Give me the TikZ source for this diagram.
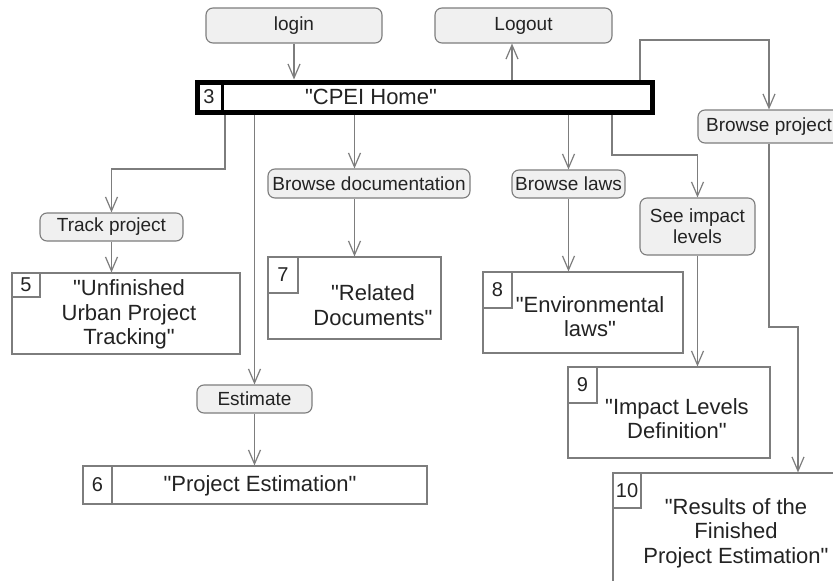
\documentclass[tikz,border=0pt]{standalone}
\usepackage{fontspec}
\setmainfont{Liberation Sans}
\usetikzlibrary{arrows.meta}
\definecolor{edge}{RGB}{125,125,125}
\definecolor{lblfill}{RGB}{240,240,240}
\definecolor{ink}{RGB}{35,35,35}
\newcommand{\qd}{\textquotedbl}
\begin{document}
\begin{tikzpicture}[x=1pt,y=-1pt,
  lbl/.style={draw=edge, fill=lblfill, rounded corners=7pt, line width=1.1pt, inner sep=0pt,
    font=\fontsize{19}{21}\selectfont, text=ink, align=center},
  scr/.style={draw=edge, fill=white, line width=1.1pt, inner sep=0pt},
  numc/.style={draw=edge, fill=white, line width=1.1pt, inner sep=0pt,
    font=\fontsize{20}{22}\selectfont, text=ink, anchor=north west},
  big/.style={font=\fontsize{22}{24.5}\selectfont, text=ink, align=center, inner sep=0pt},
  arr/.style={draw=edge, line width=1.2pt, -{Straight Barb[length=14pt,width=12pt]}}]
\useasboundingbox (0,0) rectangle (833,581);
\clip (0,0) rectangle (833,581);
\fill[white] (0,0) rectangle (833,581);

% top labels
\node[lbl, minimum width=176pt, minimum height=35pt] (login) at (294,25.5) {login};
\node[lbl, minimum width=177pt, minimum height=35pt] (logout) at (523.5,25.5) {Logout};

% home
\node[draw=black, fill=white, line width=5pt, inner sep=0pt, minimum width=455pt, minimum height=30pt] (home) at (424.5,97) {};
\node[draw=black, line width=3pt, inner sep=0pt, minimum width=26pt, minimum height=30pt, anchor=west,
  font=\fontsize{20}{22}\selectfont, text=ink] (n3) at (home.west) {3};
\node[big] (hometxt) at (371,97) {\qd CPEI Home\qd};

% labels
\node[lbl, minimum width=143pt, minimum height=28pt] (track) at (111.5,227) {Track project};
\node[lbl, minimum width=202pt, minimum height=29pt] (doc) at (369,183.5) {Browse documentation};
\node[lbl, minimum width=113pt, minimum height=28pt] (laws) at (568.5,184) {Browse laws};
\node[lbl, minimum width=115pt, minimum height=57pt] (imp) at (697.5,226.5) {See impact\\levels};
\node[lbl, minimum width=142pt, minimum height=33pt] (bp) at (769,126.5) {Browse project};
\node[lbl, minimum width=115pt, minimum height=28pt] (est) at (254.5,399) {Estimate};

% screens
\node[scr, minimum width=228pt, minimum height=81pt] (s5) at (126,313.5) {};
\node[numc, minimum width=28pt, minimum height=24pt] (n5) at (s5.north west) {5};
\node[big] (t5) at (129,314.5) {\qd Unfinished\\Urban Project\\Tracking\qd};

\node[scr, minimum width=344pt, minimum height=38pt] (s6) at (255,485) {};
\node[numc, minimum width=29pt, minimum height=38pt] (n6) at (s6.north west) {6};
\node[big] (t6) at (260,486) {\qd Project Estimation\qd};

\node[scr, minimum width=173pt, minimum height=82pt] (s7) at (354.5,298) {};
\node[numc, minimum width=30pt, minimum height=36pt] (n7) at (s7.north west) {7};
\node[big] (t7) at (373,305) {\qd Related\\Documents\qd};

\node[scr, minimum width=200pt, minimum height=81pt] (s8) at (583,312.5) {};
\node[numc, minimum width=29pt, minimum height=36pt] (n8) at (s8.north west) {8};
\node[big] (t8) at (590,316.5) {\qd Environmental\\laws\qd};

\node[scr, minimum width=202pt, minimum height=91pt] (s9) at (669,412.5) {};
\node[numc, minimum width=29pt, minimum height=36pt] (n9) at (s9.north west) {9};
\node[big] (t9) at (677,418.5) {\qd Impact Levels\\Definition\qd};

\node[scr, minimum width=264pt, minimum height=147pt] (s10) at (745,546.5) {};
\node[numc, minimum width=28pt, minimum height=35pt] (n10) at (s10.north west) {10};
\node[big] (t10) at (736,533) {\qd Results of the\\Finished\\Project Estimation\qd};

% bend points
\coordinate (xlo) at (512,0);
\coordinate (b1) at (225,169);
\coordinate (b2) at (612,155);
\coordinate (b3) at (640,40);
\coordinate (b4) at (798,327);

% connectors
\draw[arr] (login.south) -- (login.south |- home.north);
\draw[arr] (home.north -| xlo) -- (logout.south -| xlo);
\draw[arr] (home.south -| b1) -- (b1) -| (track.north);
\draw[arr] (track.south) -- (track.south |- s5.north);
\draw[arr] (home.south -| est.north) -- (est.north);
\draw[arr] (est.south) -- (est.south |- s6.north);
\draw[arr] (home.south -| s7.north) -- (s7.north |- doc.north);
\draw[arr] (s7.north |- doc.south) -- (s7.north);
\draw[arr] (home.south -| laws.north) -- (laws.north);
\draw[arr] (laws.south) -- (laws.south |- s8.north);
\draw[arr] (home.south -| b2) -- (b2) -| (imp.north);
\draw[arr] (imp.south) -- (imp.south |- s9.north);
\draw[arr] (home.north -| b3) -- (b3) -| (bp.north);
\draw[arr] (bp.south) |- (b4) -- (b4 |- s10.north);
\end{tikzpicture}
\end{document}
